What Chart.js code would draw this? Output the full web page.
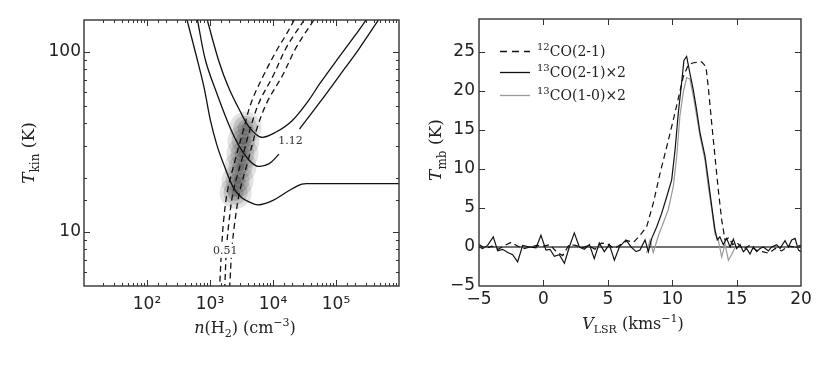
<!DOCTYPE html>
<html>
<head>
<meta charset="utf-8">
<script src="https://cdn.jsdelivr.net/npm/chart.js@4.4.1/dist/chart.umd.min.js"></script>
<style>
  body { margin:0; background:#fff; }
  #wrap { position:relative; width:830px; height:369px; }
  canvas { position:absolute; top:0; }
  #c1 { left:0; }
  #c2 { left:415px; }
</style>
</head>
<body>
<div id="wrap">
  <canvas id="c1" width="415" height="369"></canvas>
  <canvas id="c2" width="415" height="369"></canvas>
</div>
<script>
// ---- left panel: n(H2) - Tkin contours ----
var nA = [432, 596, 804, 1018, 1294, 1643, 2350, 3162, 4256, 5807, 9820, 17780, 28700, 41000, 1e6];
var tA = [150, 97.1, 63.4, 41.4, 30.1, 23.8, 17.6, 15.5, 14.6, 14.1, 14.9, 16.9, 18.4, 18.5, 18.5];
var nB = [633, 851, 1294, 2080, 2978, 4256, 5745, 8690, 12450, null, 26360, 55230, 113000, 230700, 472000];
var tB = [150, 89.1, 58.2, 37.9, 29.4, 24.8, 23.1, 23.9, 27.0, null, 37.2, 52.3, 73.5, 103.5, 150];
var nC = [905, 1375, 1965, 2978, 4256, 6500, 11040, 20090, 36390, 55230, 113000, 205000, 300000];
var tC = [150, 89.1, 63.4, 47, 37.9, 33.5, 35.7, 41.4, 53.4, 66.4, 93.8, 124.3, 150];
var tDash = [150, 122.7, 103.5, 73.5, 52.3, 36.4, 24.8, 16.9, 11.5, 7.84, 5];
var nD1 = [21800, 15800, 11750, 7020, 4520, 3360, 2490, 1897, 1643, 1520, 1425];
var nD2 = [31190, 21280, 15800, 10040, 6020, 4256, 3162, 2350, 2010, 1817, 1722];
var nD3 = [44570, 30400, 22590, 14060, 8020, 5408, 4018, 2978, 2490, 2213, 2059];
var nBlob = [3648, 3396, 3281, 3050, 2740, 2552];
var tBlob = [37.8, 32, 27.1, 23, 19.2, 16.5];
var contourText = ['0.51', '1.12'];
var contourN = [1742, 18900];
var contourT = [7.84, 31.8];

// ---- right panel: spectra ----
var v12 = [-5,-4.5,-4,-3.5,-3,-2.5,-2,-1.5,-1,-0.5,0,0.5,1,1.5,2,2.5,3,3.5,4,4.5,5,5.5,6,6.5,7,7.5,
  8.02,8.53,9.05,9.57,10.09,10.47,10.86,11.25,11.64,12.29,12.62,12.8,13.07,13.32,13.58,13.84,14.1,
  14.4,14.7,15,15.5,16,16.5,17,17.5,18,18.5,19,19.5,20];
var t12 = [0.3,-0.2,0.1,-0.3,0.2,0.6,0.1,-0.2,0.0,0.2,0.1,0.3,-0.6,-1.1,0.3,0.2,-0.1,0.2,-0.3,0.5,0.4,-0.2,0.3,0.8,0.6,1.5,
  2.6,5.6,9.4,12.8,16.3,19.0,21.8,23.3,23.6,23.7,23.1,20.5,15.8,11.6,7.3,3.5,0.9,
  1.2,0.3,0.6,-0.3,0.2,-0.4,-0.6,-0.8,-0.2,-0.5,0.1,0.0,0.2];
var v13a = [-4.97,-4.72,-4.33,-3.89,-3.55,-3.16,-2.77,-2.39,-2.0,-1.61,-1.09,-0.57,-0.19,0.2,0.51,0.85,1.24,1.63,2.01,2.40,
  2.79,3.18,3.57,3.95,4.34,4.73,5.12,5.51,5.90,6.41,6.80,7.19,7.5,7.89,8.15,8.41,8.8,9.18,9.57,9.96,
  10.22,10.47,10.73,10.91,11.12,11.38,11.64,11.9,12.16,12.55,12.8,13.07,13.32,13.5,13.7,13.97,14.23,14.49,14.75,15.0,
  15.27,15.52,15.78,16.04,16.3,16.56,16.82,17.08,17.47,17.72,18.11,18.37,18.76,19.02,19.28,19.54,19.8,20.0];
var t13a = [0.0,-0.2,0.2,1.3,-0.5,-0.3,-0.7,-1.0,-1.9,0.2,0.0,-0.1,1.5,-0.4,-0.3,-1.2,-1.0,-2.1,0.0,1.8,
  0.0,-0.3,0.3,-1.5,0.5,-0.6,0.3,-1.7,0.0,0.9,0.0,-0.6,-0.4,0.9,-0.6,1.1,2.6,4.3,6.4,8.6,
  12.4,17.1,21.0,23.9,24.4,22.2,20.1,17.5,14.6,11.6,8.6,5.2,2.2,0.9,1.3,0.3,1.1,0.0,1.0,-0.2,
  0.3,-0.6,-0.2,-0.9,0.0,-0.6,-0.2,0.0,-0.5,0.0,0.3,-0.2,0.8,0.0,0.9,1.1,-0.4,-0.6];
var v13b = [8.02,8.28,8.53,8.92,9.31,9.7,10.09,10.35,10.6,10.86,11.12,11.38,11.64,11.9,12.16,12.55,12.8,13.07,13.32,13.58,13.84,14.1,14.36,14.61,14.9];
var t13b = [-0.8,0.9,-0.7,1.4,3.1,4.8,7.8,11.6,16.8,19.8,21.7,21.5,19.3,16.8,14.2,11.1,7.8,4.8,1.7,0.9,-1.3,0.4,-1.7,-1.0,0.0];
var vZero = [-5, 20];
var tZero = [0, 0];
var legendText = [['12', 'CO(2-1)'], ['13', 'CO(2-1)\u00d72'], ['13', 'CO(1-0)\u00d72']];

function pts(xs, ys) {
  return xs.map(function (x, i) { return { x: x, y: ys[i] }; });
}

function serif(size, italic) {
  return (italic ? 'italic ' : '') + size + 'px "DejaVu Serif"';
}

// text with sub/superscripts: parts = [text, 'i'|'s'|'u'|'']
function richText(ctx, parts, x, y, size, align, rot) {
  ctx.save();
  ctx.translate(x, y);
  if (rot) ctx.rotate(rot);
  ctx.fillStyle = '#222';
  ctx.textAlign = 'left';
  ctx.textBaseline = 'alphabetic';
  var total = 0;
  parts.forEach(function (p) {
    var small = p[1] === 's' || p[1] === 'u';
    ctx.font = serif(small ? Math.round(size * 0.7) : size, p[1] === 'i');
    p.w = ctx.measureText(p[0]).width;
    total += p.w;
  });
  var cx = align === 'center' ? -total / 2 : 0;
  parts.forEach(function (p) {
    var small = p[1] === 's' || p[1] === 'u';
    ctx.font = serif(small ? Math.round(size * 0.7) : size, p[1] === 'i');
    var dy = size * 0.35;
    if (p[1] === 's') dy += size * 0.3;
    if (p[1] === 'u') dy -= size * 0.42;
    ctx.fillText(p[0], cx, dy);
    cx += p.w;
  });
  ctx.restore();
}

function isPow10(v) {
  var e = Math.log10(v);
  return Math.abs(e - Math.round(e)) < 1e-9;
}

// inward ticks on all sides + frame
var frame = {
  id: 'frame',
  afterDatasetsDraw: function (chart) {
    var ctx = chart.ctx, a = chart.chartArea;
    var xs = chart.scales.x, ys = chart.scales.y;
    var log = xs.type === 'logarithmic';
    ctx.save();
    ctx.strokeStyle = '#333';
    ctx.lineWidth = 1;
    ctx.beginPath();
    xs.ticks.forEach(function (t) {
      var v = t.value;
      if (v <= xs.min || v >= xs.max) return;
      var major = log ? isPow10(v) : (v % 5 === 0);
      if (!log && !major) return;
      var L = major ? 6 : 3;
      var px = Math.round(xs.getPixelForValue(v)) + 0.5;
      ctx.moveTo(px, a.bottom); ctx.lineTo(px, a.bottom - L);
      ctx.moveTo(px, a.top); ctx.lineTo(px, a.top + L);
    });
    ys.ticks.forEach(function (t) {
      var v = t.value;
      if (v <= ys.min || v >= ys.max) return;
      var major = log ? isPow10(v) : (v % 5 === 0);
      if (!log && !major) return;
      var L = major ? 6 : 3;
      var py = Math.round(ys.getPixelForValue(v)) + 0.5;
      ctx.moveTo(a.left, py); ctx.lineTo(a.left + L, py);
      ctx.moveTo(a.right, py); ctx.lineTo(a.right - L, py);
    });
    ctx.stroke();
    ctx.lineWidth = 1.4;
    ctx.strokeStyle = '#333';
    ctx.strokeRect(a.left, a.top, a.right - a.left, a.bottom - a.top);
    ctx.restore();
  }
};

var supDigits = { 2: '\u00b2', 3: '\u00b3', 4: '\u2074', 5: '\u2075' };

var tickFont = { family: '"DejaVu Sans"', size: 17 };

// left chart labels
var leftText = {
  id: 'leftText',
  afterDraw: function (chart) {
    var ctx = chart.ctx, xs = chart.scales.x, ys = chart.scales.y;
    contourText.forEach(function (txt, i) {
      var px = xs.getPixelForValue(contourN[i]);
      var py = ys.getPixelForValue(contourT[i]);
      ctx.save();
      ctx.font = serif(11, false);
      var w = ctx.measureText(txt).width;
      if (i === 0) {
        ctx.fillStyle = '#fff';
        ctx.fillRect(px - w / 2 - 2, py - 7, w + 4, 14);
      }
      ctx.fillStyle = '#333';
      ctx.textAlign = 'center';
      ctx.textBaseline = 'middle';
      ctx.fillText(txt, px, py);
      ctx.restore();
    });
    richText(ctx, [['T', 'i'], ['kin', 's'], [' (K)', '']], 28, 153, 17, 'center', -Math.PI / 2);
    richText(ctx, [['n', 'i'], ['(H', ''], ['2', 's'], [') (cm', ''], ['\u22123', 'u'], [')', '']], 245, 327, 16, 'center');
  }
};

var rightText = {
  id: 'rightText',
  afterDraw: function (chart) {
    var ctx = chart.ctx;
    richText(ctx, [['T', 'i'], ['mb', 's'], [' (K)', '']], 20, 150, 17, 'center', -Math.PI / 2);
    richText(ctx, [['V', 'i'], ['LSR', 's'], [' (kms', ''], ['\u22121', 'u'], [')', '']], 218, 323, 16, 'center');
    var rowsY = [51, 72, 95];
    var styles = [['#111', [7, 5]], ['#111', []], ['#999', []]];
    rowsY.forEach(function (y, i) {
      ctx.save();
      ctx.strokeStyle = styles[i][0];
      ctx.lineWidth = 1.3;
      ctx.setLineDash(styles[i][1]);
      ctx.beginPath();
      ctx.moveTo(85, y + 0.5);
      ctx.lineTo(115, y + 0.5);
      ctx.stroke();
      ctx.restore();
      richText(ctx, [[legendText[i][0], 'u'], [legendText[i][1], '']], 122, y, 14, 'left');
    });
  }
};

function curve(xs, ys, dash) {
  return {
    data: pts(xs, ys),
    showLine: true,
    borderColor: '#111',
    borderWidth: 1.3,
    borderDash: dash ? [6, 4] : [],
    pointRadius: 0,
    tension: 0.35,
    spanGaps: false,
    order: 1
  };
}

function fitX(s) { s.height = 83; s.paddingLeft = 0; s.paddingRight = 0; }
function fitY(w) {
  return function (s) { s.width = w; s.paddingTop = 0; s.paddingBottom = 0; };
}

var noGrid = { display: false, drawTicks: false };

function blob(r, alpha, ord) {
  return { data: pts(nBlob, tBlob), pointRadius: r, pointBorderWidth: 0, backgroundColor: 'rgba(60,60,60,' + alpha + ')', order: ord };
}

new Chart(document.getElementById('c1'), {
  type: 'scatter',
  data: {
    datasets: [
      curve(nA, tA), curve(nB, tB), curve(nC, tC),
      curve(nD1, tDash, true), curve(nD2, tDash, true), curve(nD3, tDash, true),
      blob(16, 0.14, 7), blob(12, 0.2, 6), blob(8, 0.26, 5), blob(4, 0.3, 4)
    ]
  },
  options: {
    responsive: false,
    animation: false,
    layout: { padding: { left: 0, top: 20, right: 9, bottom: 0 } },
    plugins: { legend: { display: false }, tooltip: { enabled: false } },
    scales: {
      x: {
        type: 'logarithmic', min: 10, max: 1e6,
        grid: noGrid, border: { display: false },
        afterFit: fitX,
        ticks: {
          autoSkip: false, maxRotation: 0, padding: 8, color: '#222', font: tickFont,
          callback: function (v) {
            if (!isPow10(v) || v <= 10 || v >= 1e6) return '';
            return '10' + supDigits[Math.round(Math.log10(v))];
          }
        }
      },
      y: {
        type: 'logarithmic', min: 5, max: 150,
        grid: noGrid, border: { display: false },
        afterFit: fitY(84),
        ticks: {
          autoSkip: false, padding: 3, color: '#222', font: tickFont,
          callback: function (v) { return (isPow10(v) && v > 5 && v < 150) ? String(v) : ''; }
        }
      }
    }
  },
  plugins: [frame, leftText]
});

new Chart(document.getElementById('c2'), {
  type: 'scatter',
  data: {
    datasets: [
      { data: pts(v13a, t13a), showLine: true, borderColor: '#111', borderWidth: 1.2, pointRadius: 0, tension: 0, order: 1 },
      { data: pts(v13b, t13b), showLine: true, borderColor: '#999', borderWidth: 1.2, pointRadius: 0, tension: 0, order: 2 },
      { data: pts(v12, t12), showLine: true, borderColor: '#111', borderWidth: 1.2, borderDash: [6, 4], pointRadius: 0, tension: 0, order: 3 },
      { data: pts(vZero, tZero), showLine: true, borderColor: '#444', borderWidth: 1.6, pointRadius: 0, order: 4 }
    ]
  },
  options: {
    responsive: false,
    animation: false,
    layout: { padding: { left: 0, top: 19, right: 29, bottom: 0 } },
    plugins: { legend: { display: false }, tooltip: { enabled: false } },
    scales: {
      x: {
        type: 'linear', min: -5, max: 20,
        grid: noGrid, border: { display: false },
        afterFit: fitX,
        ticks: {
          stepSize: 5, autoSkip: false, maxRotation: 0, padding: 3, color: '#222', font: tickFont,
          callback: function (v) { return v % 5 === 0 ? String(v).replace('-', '\u2212') : ''; }
        }
      },
      y: {
        type: 'linear', min: -5, max: 29.2,
        grid: noGrid, border: { display: false },
        afterFit: fitY(64),
        ticks: {
          stepSize: 5, autoSkip: false, padding: 4, color: '#222', font: tickFont,
          callback: function (v) { return v % 5 === 0 ? String(v).replace('-', '\u2212') : ''; }
        }
      }
    }
  },
  plugins: [frame, rightText]
});
</script>
</body>
</html>
